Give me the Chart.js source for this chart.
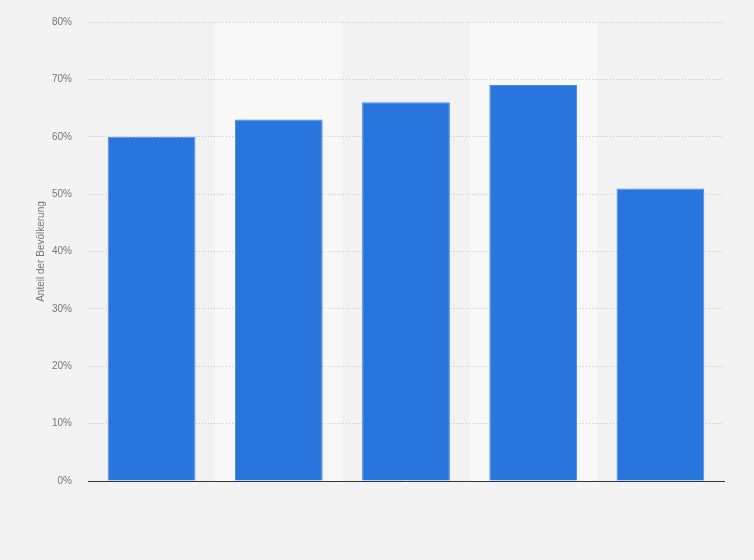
<!DOCTYPE html>
<html>
<head>
<meta charset="utf-8">
<script src="https://cdn.jsdelivr.net/npm/chart.js@4"></script>
<style>
  html, body { margin: 0; padding: 0; background: #f3f3f3; }
  #wrap { width: 754px; height: 560px; position: relative; }
</style>
</head>
<body>
<div id="wrap"><canvas id="chart"></canvas></div>
<script>
// category names are not shown in the picture
const categories = ['1', '2', '3', '4', '5']
const shares = [60, 63, 66, 69, 51]
const yTicks = [0, 10, 20, 30, 40, 50, 60, 70, 80]

// lighter background band behind every second category
const bands = {
  id: 'bands',
  beforeDraw(chart) {
    const { ctx, chartArea, scales: { x } } = chart
    const step = x.getPixelForValue(1) - x.getPixelForValue(0)
    ctx.save()
    ctx.fillStyle = '#f2f2f2'
    ctx.fillRect(chartArea.left, chartArea.top, chartArea.width, chartArea.height)
    ctx.fillStyle = '#f8f8f8'
    categories.forEach((c, i) => {
      if (i % 2 === 1) {
        const cx = x.getPixelForValue(i)
        ctx.fillRect(cx - step / 2, chartArea.top, step, chartArea.height)
      }
    })
    ctx.restore()
  }
}

Chart.defaults.font.family = '"Liberation Sans", Arial, sans-serif'

new Chart(document.getElementById('chart'), {
  type: 'bar',
  data: {
    labels: categories,
    datasets: [{
      data: shares,
      backgroundColor: '#2876dd',
      borderColor: '#4a8de6',
      borderWidth: 1,
      categoryPercentage: 0.69,
      barPercentage: 1
    }]
  },
  options: {
    responsive: true,
    maintainAspectRatio: false,
    animation: false,
    layout: { padding: { top: 4, right: 30, bottom: 79, left: 0 } },
    plugins: { legend: { display: false }, tooltip: { enabled: false } },
    scales: {
      x: {
        ticks: { display: false },
        grid: { display: false },
        border: { display: true, color: '#333', width: 1 },
        afterFit(scale) { scale.height = 0 }
      },
      y: {
        min: 0,
        max: 80,
        afterBuildTicks(scale) { scale.ticks = yTicks.map(v => ({ value: v })) },
        ticks: {
          color: '#777',
          font: { size: 10 },
          padding: 16,
          callback: v => v + '%'
        },
        grid: {
          drawTicks: false,
          color: ctx => ctx.tick && ctx.tick.value === 0 ? 'rgba(0,0,0,0)' : '#c8c8c8',
          lineWidth: 1
        },
        border: { display: false, dash: [1, 2] },
        title: {
          display: true,
          text: 'Anteil der Bevölkerung',
          color: '#777',
          font: { size: 10 },
          padding: { top: 35, bottom: 4 }
        },
        afterFit(scale) { scale.width = 88 }
      }
    }
  },
  plugins: [bands]
})
</script>
</body>
</html>
